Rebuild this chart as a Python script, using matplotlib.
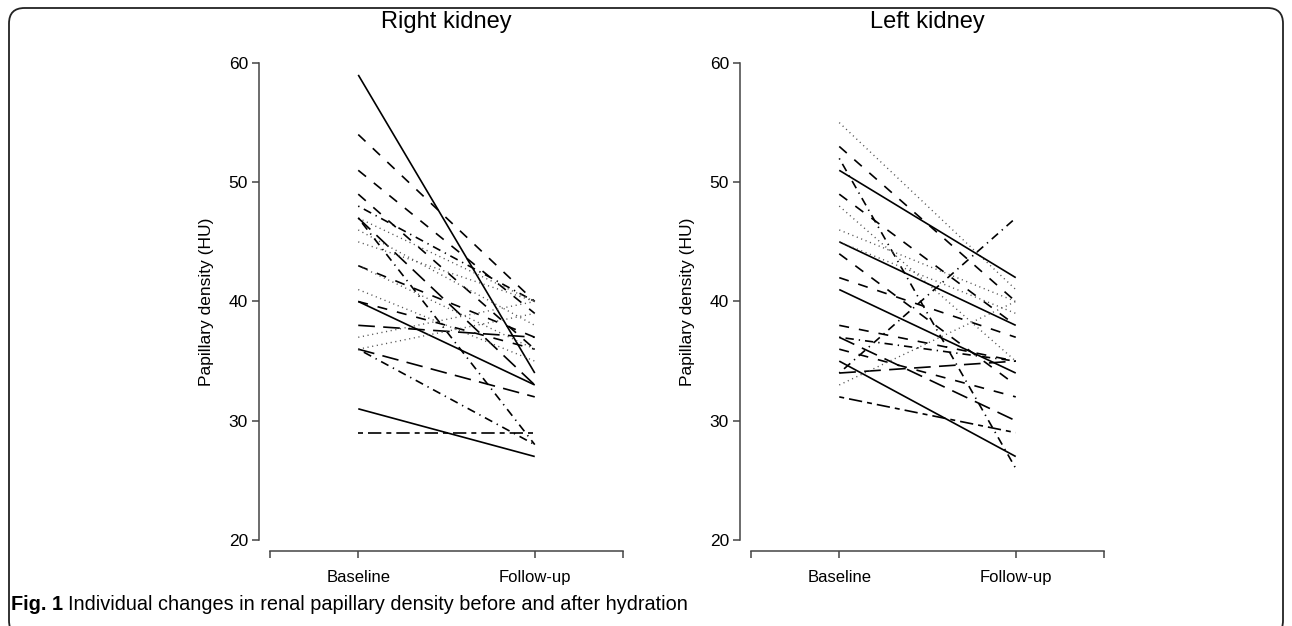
import numpy as np
import matplotlib
matplotlib.use('Agg')
import matplotlib.pyplot as plt
from matplotlib.patches import FancyBboxPatch

plt.rcParams['font.family'] = ['Liberation Sans', 'DejaVu Sans']

# --- data: (baseline, follow-up) per subject, and line type ---
right_base = [59, 54, 51, 49, 48, 47, 47, 46, 45, 43, 47, 41, 40, 40, 38, 37, 36, 36, 36, 31, 29, 43]
right_follow = [34, 40, 39, 36, 40, 40, 33, 38, 40, 37, 28, 35, 36, 33, 37, 40, 32, 28, 39, 27, 29, 36]
right_lty = ['solid', 'dashed', 'dashed', 'dashed', 'dotdash', 'dotted', 'longdash', 'dotted',
             'dotted', 'dashed', 'dotdash', 'dotted', 'dashed', 'solid', 'longdash', 'dotted',
             'longdash', 'dotdash', 'dotted', 'solid', 'twodash', 'dotted']

left_base = [55, 53, 52, 51, 49, 48, 46, 45, 45, 44, 42, 41, 38, 37, 37, 36, 35, 34, 34, 33, 32]
left_follow = [41, 40, 26, 42, 38, 35, 40, 38, 39, 33, 37, 34, 35, 30, 35, 32, 27, 47, 35, 40, 29]
left_lty = ['dotted', 'dashed', 'dotdash', 'solid', 'dashed', 'dotted', 'dotted', 'solid',
            'dotted', 'dashed', 'dashed', 'solid', 'dashed', 'longdash', 'dotdash', 'dashed',
            'solid', 'dotdash', 'longdash', 'dotted', 'twodash']

x_labels = ['Baseline', 'Follow-up']

DASHES = {
    'solid': None,
    'dashed': (6, 6),
    'dotted': (0.8, 2.6),
    'dotdash': (0.8, 3, 5, 3),
    'longdash': (10, 5),
    'twodash': (3, 3, 8, 3),
}

W, H = 1292, 626
fig = plt.figure(figsize=(W / 100, H / 100), dpi=100)

# rounded frame round the figure
frame = FancyBboxPatch((9 / W, -10 / H), 1274 / W, (H - 8 + 10) / H,
                       boxstyle='round,pad=0,rounding_size=0.012',
                       transform=fig.transFigure, fill=False, lw=1.3,
                       ec='#222222', mutation_aspect=W / H)
fig.patches.append(frame)


def panel(left_px, base, follow, lty, title):
    ax = fig.add_axes([left_px / W, 75 / H, 375 / W, 499 / H])
    for b, f, l in zip(base, follow, lty):
        col = '#555555' if l == 'dotted' else 'black'
        lw = 1.0 if l == 'dotted' else 1.2
        line, = ax.plot([1, 2], [b, f], color=col, lw=lw, solid_capstyle='butt')
        if DASHES[l] is not None:
            line.set_dashes(DASHES[l])
    ax.set_xlim(0.4377, 2.5623)
    ax.set_ylim(19.078, 60.92)
    for s in ('top', 'right'):
        ax.spines[s].set_visible(False)
    for s in ('left', 'bottom'):
        ax.spines[s].set_color('#444444')
        ax.spines[s].set_linewidth(1.1)
    ax.spines['left'].set_bounds(20, 60)
    ax.spines['bottom'].set_bounds(0.5, 2.5)
    ax.set_yticks([20, 30, 40, 50, 60])
    ax.set_xticks([0.5, 1, 2, 2.5])
    ax.set_xticklabels([''] + x_labels + [''])
    ax.tick_params(axis='y', length=5, width=1.1, color='#444444', pad=3, labelsize=12.5)
    ax.tick_params(axis='x', length=5, width=1.1, color='#444444', pad=9, labelsize=12)
    ax.text(-0.139, 0.5, 'Papillary density (HU)', transform=ax.transAxes,
            rotation=90, ha='center', va='center', fontsize=12.5)
    fig.text((left_px + 187) / W, 1 - 22 / H, title, ha='center', va='center', fontsize=17)
    return ax


panel(259, right_base, right_follow, right_lty, 'Right kidney')
panel(740, left_base, left_follow, left_lty, 'Left kidney')

t1 = fig.text(11 / W, 1 - 605 / H, 'Fig. 1', fontsize=14.3, fontweight='bold',
              ha='left', va='center')
fig.canvas.draw()
bb = t1.get_window_extent()
fig.text((bb.x1 + 5) / W, 1 - 605 / H,
         'Individual changes in renal papillary density before and after hydration',
         fontsize=14.3, ha='left', va='center')

fig.savefig('out.png', dpi=100)
